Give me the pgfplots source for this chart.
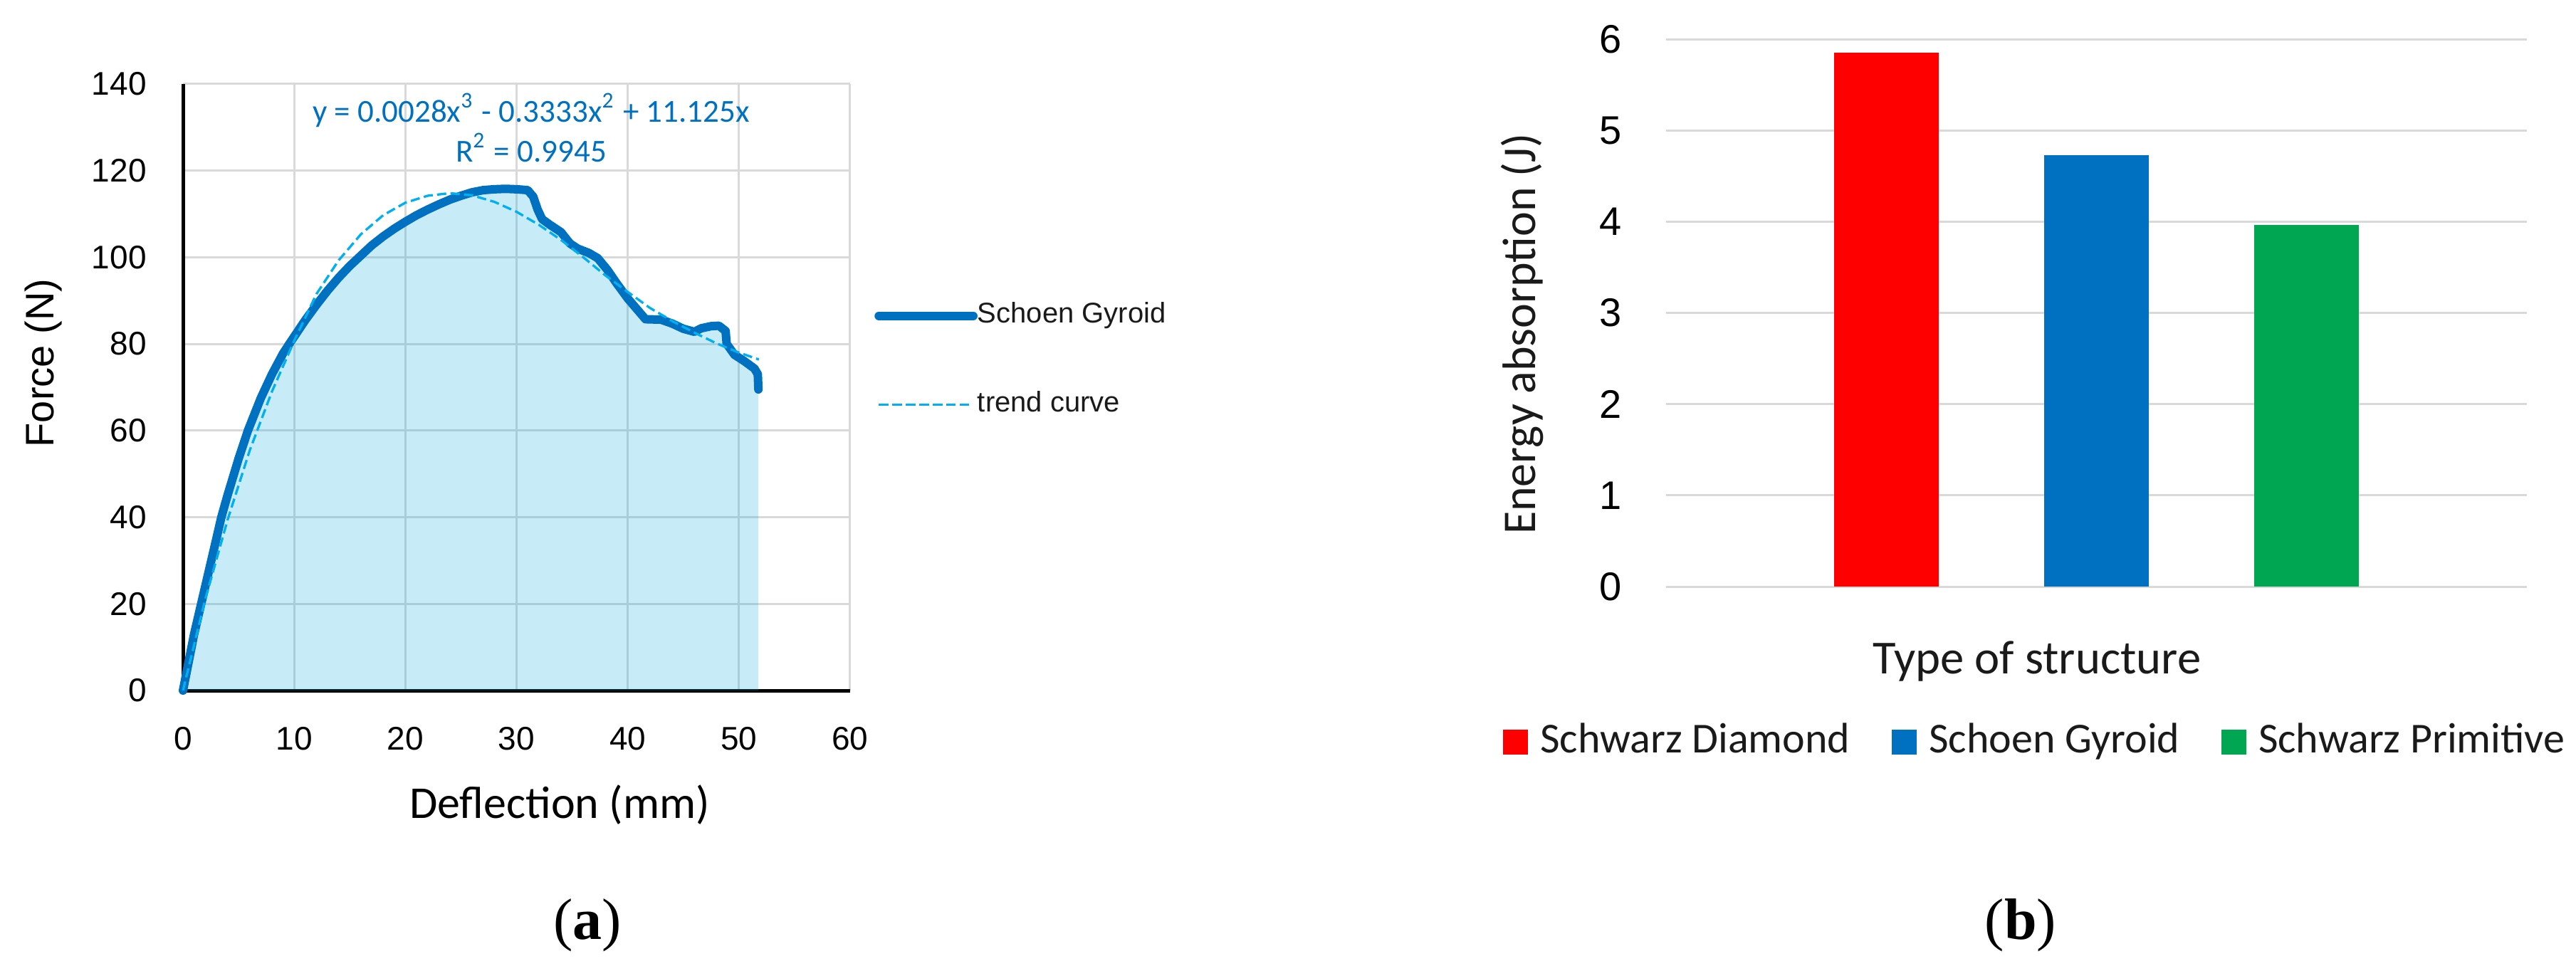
\documentclass[border=0pt]{standalone}
\usepackage{fontspec}
\usepackage{pgfplots}
\usepackage{pgfplotstable}
\pgfplotsset{compat=1.18}
\setmainfont{Liberation Sans}
\newfontfamily\lib{Liberation Sans}
\newfontfamily\carl{Carlito}
\newfontfamily\serifx{Liberation Serif}

\definecolor{sgblue}{HTML}{0070C0}
\definecolor{trendcyan}{HTML}{00B0F0}
\definecolor{areacyan}{HTML}{00A9E0}
\definecolor{gridgray}{HTML}{D9D9D9}
\definecolor{barred}{HTML}{FF0000}
\definecolor{barblue}{HTML}{0070C0}
\definecolor{bargreen}{HTML}{00A651}
\definecolor{txt}{HTML}{1A1A1A}

\pgfplotsset{
    sglegend/.style={legend image code/.code={\draw[##1] (0.98pt,0pt) -- (18.2pt,0pt); \path (0pt,0pt) -- (19.9pt,0pt);}},
    trendlegend/.style={legend image code/.code={\draw[##1] (0.15pt,0pt) -- (13.7pt,0pt); \path (0pt,0pt) -- (19.9pt,0pt);}},
    squarelegend/.style={legend image code/.code={\fill[##1] (0pt,-2.625pt) rectangle (5.25pt,2.625pt); \path (7.8pt,0pt);}},
}

% force-deflection curve, Schoen Gyroid
\pgfplotstableread{
x y
0 0
0.5 6.5
1 13
2 24
3 35
3.45 40
4 45
5 53.5
5.84 60
7 67.5
8 73
9 77.8
9.56 80
11 85.5
12 89
13 92.3
14 95.3
15 98
16 100.4
17 102.8
18 104.8
19 106.6
20 108.2
21 109.7
22 111
23 112.2
24 113.3
25 114.2
26 115
27 115.5
28 115.7
29 115.8
30 115.7
31 115.5
31.5 114
31.9 111
32.3 108.8
33 107.5
34 105.8
34.8 103.2
35.5 102
36.5 101
37.3 99.8
38.2 97
39 94
40 90.5
41 87.5
41.6 85.7
43 85.6
44 84.7
45 83.5
46 82.8
46.6 83.6
47.5 84.1
48.2 84.2
48.8 83
48.9 80
49.6 77.5
50.5 76
51.4 74.3
51.7 73
51.75 69.5
}\gyroid

% trend curve as drawn
\pgfplotstableread{
x y
0 0
2 21
4 39.3
6 55.4
8 69
10 80.7
12 91.5
14 99.3
16 105.3
18 109.7
20 112.6
22 114.2
24 114.8
26 114.3
28 112.8
30 110.5
32 107.5
34 104
36 100
38 95.8
40 92
42 88.3
44 85.3
46 82.6
48 80.1
50 78
51.8 76.4
}\trend

\begin{document}
\begin{tikzpicture}
\useasboundingbox (0,0) rectangle (542.7pt,203.4pt);

% (a) force vs deflection
\begin{axis}[
    at={(38.55pt,57.9pt)}, anchor=south west,
    scale only axis, width=140.55pt, height=127.8pt,
    xmin=0, xmax=60, ymin=0, ymax=140,
    xtick={0,10,...,60}, ytick={0,20,...,140},
    grid=major, grid style={draw=gridgray, line width=0.45pt},
    axis x line*=bottom, axis y line*=left,
    axis line style={black, line width=0.75pt, -},
    major tick length=0pt,
    /pgf/number format/assume math mode=true,
    ticklabel style={font=\lib\fontsize{6.9}{8}\selectfont, text=black},
    xticklabel style={inner sep=0pt, anchor=north, yshift=-7.5pt},
    yticklabel style={inner sep=0pt, anchor=east, xshift=-7.5pt},
    clip=false,
    legend cell align=left,
    legend style={at={(1.0352,0.642)}, anchor=north west, draw=none, fill=none,
        inner sep=0pt, row sep=12.9pt, nodes={inner sep=0pt},
        font=\lib\fontsize{6}{7}\selectfont, text=txt},
]
\addplot[fill=areacyan, fill opacity=0.22, draw=none, forget plot]
    table[x=x, y=y] {\gyroid} \closedcycle;
\addplot[sgblue, line width=1.8pt, line join=round, line cap=round, sglegend]
    table[x=x, y=y] {\gyroid};
\addlegendentry{Schoen Gyroid}
\addplot[trendcyan, line width=0.5pt, dash pattern=on 1.95pt off 0.9pt, trendlegend]
    table[x=x, y=y] {\trend};
\addlegendentry{trend curve}
\end{axis}

% (b) energy absorption
\begin{axis}[
    at={(351pt,79.8pt)}, anchor=south west,
    scale only axis, width=181.35pt, height=115.35pt,
    xmin=-0.05, xmax=4.05, ymin=0, ymax=6,
    ytick={0,1,...,6}, xtick=\empty,
    ymajorgrids, grid style={draw=gridgray, line width=0.45pt},
    axis line style={draw=none},
    major tick length=0pt,
    ybar, bar width=0.5, bar shift=0pt,
    /pgf/number format/assume math mode=true,
    yticklabel style={font=\lib\fontsize{8.4}{10}\selectfont, text=black,
        inner sep=0pt, anchor=east, xshift=-9.15pt},
    legend columns=3,
    legend cell align=left,
    legend style={at={(-0.1902,-0.2835)}, anchor=west, draw=none, fill=none,
        inner sep=0pt, nodes={inner sep=0pt},
        font=\carl\fontsize{9}{11}\selectfont, text=txt,
        /tikz/every even column/.append style={column sep=8.8pt}},
    squarelegend,
]
\addplot[fill=barred, draw=none] coordinates {(1,5.85)};
\addlegendentry{Schwarz Diamond}
\addplot[fill=barblue, draw=none] coordinates {(2,4.73)};
\addlegendentry{Schoen Gyroid}
\addplot[fill=bargreen, draw=none] coordinates {(3,3.96)};
\addlegendentry{Schwarz Primitive}
\end{axis}

% titles and labels
\node[font=\lib\fontsize{8.4}{10}\selectfont, rotate=90, anchor=base] at (11.25pt,126.9pt) {Force (N)};
\node[font=\carl\fontsize{9.6}{11}\selectfont, anchor=base] at (117.9pt,31.05pt) {Deflection (mm)};
\node[font=\carl\fontsize{6.75}{8}\selectfont, text=sgblue, anchor=base] at (111.9pt,177.6pt)
    {y = 0.0028x\textsuperscript{3} - 0.3333x\textsuperscript{2} + 11.125x};
\node[font=\carl\fontsize{6.75}{8}\selectfont, text=sgblue, anchor=base] at (111.9pt,169.2pt)
    {R\textsuperscript{2} = 0.9945};
\node[font=\carl\fontsize{9.9}{12}\selectfont, rotate=90, anchor=base, text=txt] at (323.4pt,133.05pt) {Energy absorption (J)};
\node[font=\carl\fontsize{10}{12}\selectfont, anchor=base, text=txt] at (429.15pt,61.35pt) {Type of structure};
\node[font=\serifx\fontsize{12.3}{14}\selectfont, anchor=base] at (123.75pt,5.55pt) {(\textbf{a})};
\node[font=\serifx\fontsize{12.3}{14}\selectfont, anchor=base] at (425.7pt,5.55pt) {(\textbf{b})};
\end{tikzpicture}
\end{document}
